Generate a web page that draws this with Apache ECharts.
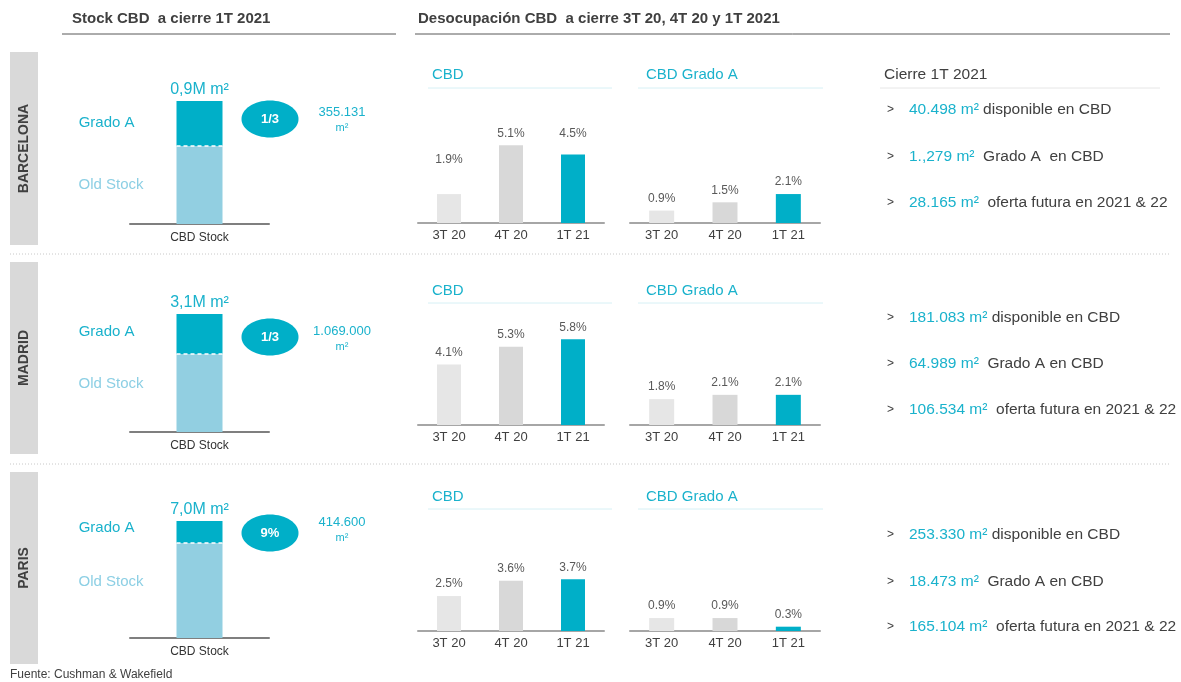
<!DOCTYPE html>
<html>
<head>
<meta charset="utf-8">
<script src="https://cdn.jsdelivr.net/npm/echarts@6/dist/echarts.min.js"></script>
<style>
  html, body { margin: 0; padding: 0; background: #fff; }
  #chart { width: 1181px; height: 682px; }
</style>
</head>
<body>
<div id="chart"></div>
<script>
// data
const cities = ["BARCELONA", "MADRID", "PARIS"];
const quarters = ["3T 20", "4T 20", "1T 21"];
const cbdVacancy = [
  [1.9, 5.1, 4.5],
  [4.1, 5.3, 5.8],
  [2.5, 3.6, 3.7],
];
const gradeAVacancy = [
  [0.9, 1.5, 2.1],
  [1.8, 2.1, 2.1],
  [0.9, 0.9, 0.3],
];
const stockTotal = [0.9, 3.1, 7.0]; // M m2
const stockGradeA = [0.33, 1.05, 1.32]; // as drawn
const stockLabels = ["0,9M m²", "3,1M m²", "7,0M m²"];
const gradeAShare = ["1/3", "1/3", "9%"];
const gradeAArea = ["355.131", "1.069.000", "414.600"];
const availableCbd = ["40.498", "181.083", "253.330"];
const gradeAInCbd = ["1.,279", "64.989", "18.473"];
const futureSupply = ["28.165", "106.534", "165.104"];
const gradeAText = ["  Grado A  en CBD", "  Grado A en CBD", "  Grado A en CBD"];

const FONT = "'Liberation Sans', Arial, sans-serif";
const TEAL = "#00afc8";
const TEAL_TXT = "#1ab2cc";
const LIGHT = "#92cfe1";
const DARK = "#404040";
const barColors = ["#e6e6e6", "#d8d8d8", TEAL];

// layout of the three rows
const rows = [
  { tabTop: 52, tabH: 193, stackTop: 101, stackBase: 224, titleY: 75, lineY: 88, base: 223, ellY: 119, numY: 112, listY: [110, 157, 203], cbdMax: 6.7, gaMax: 7.4, gaDy: -1, oldDy: 0, cbdLabelDy: [-22, 0, -9] },
  { tabTop: 262, tabH: 192, stackTop: 314, stackBase: 432, titleY: 291, lineY: 303, base: 425, ellY: 337, numY: 331, listY: [318, 364, 410], cbdMax: 6.9, gaMax: 7.1, gaDy: -2, oldDy: -9, cbdLabelDy: [0, 0, 0] },
  { tabTop: 472, tabH: 192, stackTop: 521, stackBase: 638, titleY: 497, lineY: 509, base: 631, ellY: 533, numY: 522, listY: [535, 582, 627], cbdMax: 7.3, gaMax: 7.1, gaDy: -4, oldDy: -9, cbdLabelDy: [0, 0, 0] },
];

const chart = echarts.init(document.getElementById("chart"));

const grids = [];
const xAxes = [];
const yAxes = [];
const series = [];
const elements = [];

const txt = (x, y, text, font, fill, align, extra) =>
  Object.assign(
    {
      type: "text",
      x: x,
      y: y,
      style: { text: text, font: font, fill: fill, textAlign: align || "left", textVerticalAlign: "middle" },
    },
    extra || {}
  );
const line = (x1, y1, x2, y2, stroke, width, dash) => ({
  type: "line",
  shape: { x1: x1, y1: y1, x2: x2, y2: y2 },
  style: { stroke: stroke, lineWidth: width, lineDash: dash || null },
});

// headers
elements.push(txt(72, 19, "Stock CBD  a cierre 1T 2021", "bold 15px " + FONT, DARK));
elements.push(line(62, 34, 396, 34, "#595959", 1));
elements.push(txt(418, 19, "Desocupación CBD  a cierre 3T 20, 4T 20 y 1T 2021", "bold 15px " + FONT, DARK));
elements.push(line(415, 34, 1170, 34, "#595959", 1));
elements.push(txt(884, 75, "Cierre 1T 2021", "15.5px " + FONT, DARK));
elements.push(line(880, 88, 1160, 88, "#e6e6e6", 1));
elements.push(line(10, 254, 1170, 254, "#c8c8c8", 1, [1, 2]));
elements.push(line(10, 464, 1170, 464, "#c8c8c8", 1, [1, 2]));
elements.push(txt(10, 675, "Fuente: Cushman & Wakefield", "12px " + FONT, DARK));

rows.forEach((r, i) => {
  // city tab
  elements.push({ type: "rect", shape: { x: 10, y: r.tabTop, width: 28, height: r.tabH }, style: { fill: "#d9d9d9" } });
  elements.push(
    txt(24, r.tabTop + r.tabH / 2, cities[i], "bold 14px " + FONT, DARK, "center", { rotation: Math.PI / 2 })
  );

  // stock stacked bar
  const g = grids.length;
  grids.push({ left: 130, width: 139, top: r.stackTop, height: r.stackBase - r.stackTop });
  xAxes.push({
    gridIndex: g,
    type: "category",
    data: ["CBD Stock"],
    axisLine: { lineStyle: { color: "#7f7f7f", width: 2 } },
    axisTick: { show: false },
    axisLabel: { color: "#333", fontSize: 12, fontFamily: FONT, margin: 8 },
  });
  yAxes.push({ gridIndex: g, type: "value", min: 0, max: stockTotal[i], show: false });
  const oldStock = stockTotal[i] - stockGradeA[i];
  series.push({
    type: "bar",
    xAxisIndex: g,
    yAxisIndex: g,
    stack: "s" + i,
    barWidth: 46,
    data: [oldStock],
    itemStyle: { color: LIGHT },
    label: { show: true, position: "left", distance: 33, offset: [0, r.oldDy], formatter: "Old Stock", color: "#8ccfe4", fontSize: 15, fontFamily: FONT },
    silent: true,
  });
  series.push({
    type: "bar",
    xAxisIndex: g,
    yAxisIndex: g,
    stack: "s" + i,
    barWidth: 46,
    data: [stockGradeA[i]],
    itemStyle: { color: TEAL },
    label: { show: true, position: "left", distance: 42, offset: [0, r.gaDy], formatter: "Grado A", color: TEAL_TXT, fontSize: 15, fontFamily: FONT },
    silent: true,
  });
  series.push({
    type: "custom",
    xAxisIndex: g,
    yAxisIndex: g,
    data: [[0, oldStock, stockTotal[i]]],
    z: 5,
    silent: true,
    renderItem: (params, api) => {
      const p = api.coord([api.value(0), api.value(1)]);
      const t = api.coord([api.value(0), api.value(2)]);
      return {
        type: "group",
        children: [
          { type: "line", shape: { x1: p[0] - 23, y1: p[1], x2: p[0] + 23, y2: p[1] }, style: { stroke: "#fff", lineWidth: 1.5, lineDash: [4, 3] } },
          {
            type: "text",
            x: t[0],
            y: t[1] - 3,
            style: { text: stockLabels[i], font: "16px " + FONT, fill: TEAL_TXT, textAlign: "center", textVerticalAlign: "bottom" },
          },
        ],
      };
    },
  });

  // grade A share bubble
  elements.push({ type: "ellipse", shape: { cx: 270, cy: r.ellY, rx: 28.5, ry: 18.5 }, style: { fill: TEAL } });
  elements.push(txt(270, r.ellY, gradeAShare[i], "bold 13px " + FONT, "#fff", "center"));
  elements.push(txt(342, r.numY, gradeAArea[i], "13px " + FONT, TEAL_TXT, "center"));
  elements.push(txt(342, r.numY + 16, "m²", "11px " + FONT, TEAL_TXT, "center"));

  // vacancy charts
  [
    { left: 418, width: 186, title: "CBD", tx: 432, l1: 428, l2: 612, vals: cbdVacancy[i], max: r.cbdMax, bw: 24, dy: r.cbdLabelDy },
    { left: 630, width: 190, title: "CBD Grado A", tx: 646, l1: 638, l2: 823, vals: gradeAVacancy[i], max: r.gaMax, bw: 25, dy: [0, 0, 0] },
  ].forEach((c) => {
    const k = grids.length;
    grids.push({ left: c.left, width: c.width, top: r.base - 102, height: 102 });
    xAxes.push({
      gridIndex: k,
      type: "category",
      data: quarters,
      axisLine: { lineStyle: { color: "#a6a6a6", width: 2 } },
      axisTick: { show: false },
      axisLabel: { color: DARK, fontSize: 13, fontFamily: FONT, margin: 6 },
    });
    yAxes.push({ gridIndex: k, type: "value", min: 0, max: c.max, show: false });
    series.push({
      type: "bar",
      xAxisIndex: k,
      yAxisIndex: k,
      barWidth: c.bw,
      silent: true,
      data: c.vals.map((v, j) => ({
        value: v,
        itemStyle: { color: barColors[j] },
        label: { offset: [0, c.dy[j]] },
      })),
      label: { show: true, position: "top", distance: 6, formatter: "{c}%", color: "#595959", fontSize: 12, fontFamily: FONT },
    });
    elements.push(txt(c.tx, r.titleY, c.title, "15px " + FONT, TEAL_TXT));
    elements.push(line(c.l1, r.lineY, c.l2, r.lineY, "#d6f0f5", 1));
  });

  // key figures
  const items = [
    [availableCbd[i] + " m²", " disponible en CBD"],
    [gradeAInCbd[i] + " m²", gradeAText[i]],
    [futureSupply[i] + " m²", "  oferta futura en 2021 & 22"],
  ];
  items.forEach((it, j) => {
    elements.push(txt(887, r.listY[j], ">", "12px " + FONT, DARK));
    elements.push({
      type: "text",
      x: 909,
      y: r.listY[j],
      style: {
        text: "{v|" + it[0] + "}{t|" + it[1] + "}",
        textVerticalAlign: "middle",
        rich: {
          v: { fill: TEAL_TXT, fontSize: 15.5, fontFamily: FONT },
          t: { fill: DARK, fontSize: 15.5, fontFamily: FONT },
        },
      },
    });
  });
});

chart.setOption({
  animation: false,
  grid: grids,
  xAxis: xAxes,
  yAxis: yAxes,
  series: series,
  graphic: { elements: elements },
});
</script>
</body>
</html>
